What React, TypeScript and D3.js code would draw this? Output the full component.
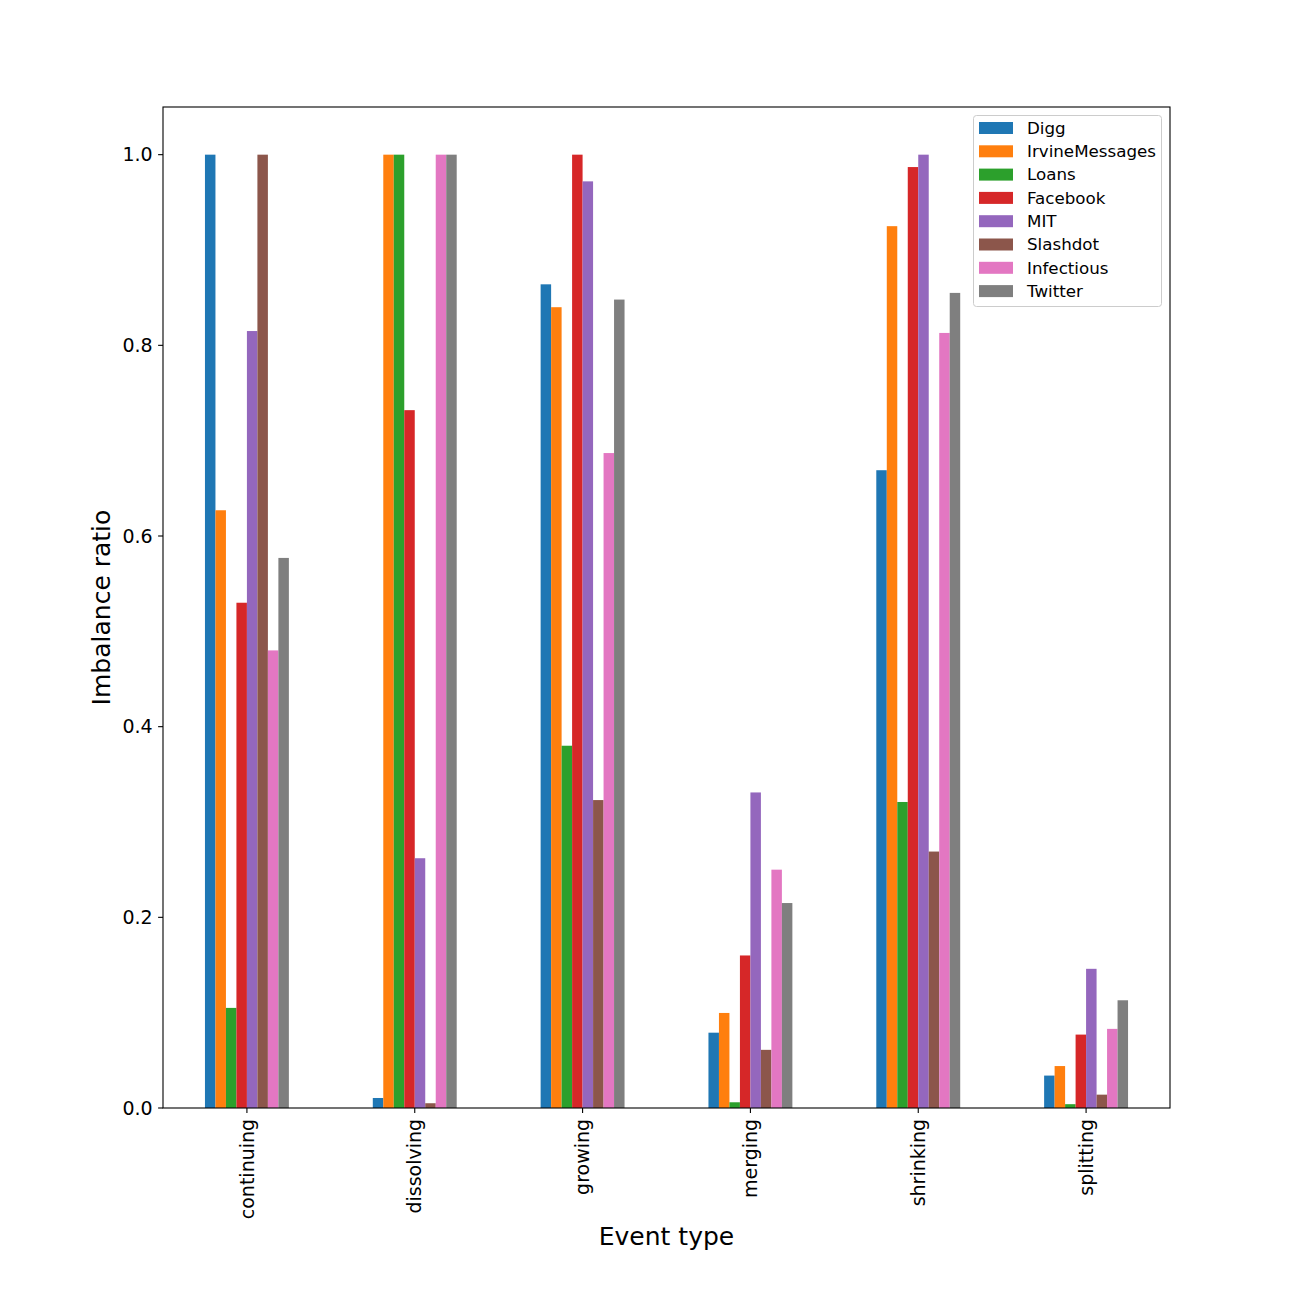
import * as d3 from 'd3';

const categories = ['continuing', 'dissolving', 'growing', 'merging', 'shrinking', 'splitting'];
const seriesNames = ['Digg', 'IrvineMessages', 'Loans', 'Facebook', 'MIT', 'Slashdot', 'Infectious', 'Twitter'];
const seriesColors = ['#1f77b4', '#ff7f0e', '#2ca02c', '#d62728', '#9467bd', '#8c564b', '#e377c2', '#7f7f7f'];

// one array per dataset, values follow the categories order
const digg = [1.0, 0.0105, 0.864, 0.079, 0.669, 0.034];
const irvineMessages = [0.627, 1.0, 0.84, 0.0997, 0.925, 0.044];
const loans = [0.105, 1.0, 0.38, 0.006, 0.321, 0.004];
const facebook = [0.53, 0.732, 1.0, 0.16, 0.987, 0.077];
const mit = [0.815, 0.262, 0.972, 0.331, 1.0, 0.146];
const slashdot = [1.0, 0.005, 0.323, 0.061, 0.269, 0.014];
const infectious = [0.48, 1.0, 0.687, 0.25, 0.813, 0.083];
const twitter = [0.577, 1.0, 0.848, 0.215, 0.855, 0.113];

const yTicks = [0.0, 0.2, 0.4, 0.6, 0.8, 1.0];

const seriesValues = [digg, irvineMessages, loans, facebook, mit, slashdot, infectious, twitter];

const W = 1300;
const H = 1300;
const left = 163;
const right = 1170;
const top = 107;
const bottom = 1108;
const font = 'DejaVu Sans, sans-serif';
const tickFont = 19;

const App = () => {
  const x = d3.scaleBand<string>().domain(categories).range([left, right]).padding(0);
  const bw = x.bandwidth();
  const xs = d3.scaleBand<string>().domain(seriesNames).range([bw * 0.25, bw * 0.75]).padding(0);
  const y = d3.scaleLinear().domain([0, 1.05]).range([bottom, top]);
  const tickLen = 4.9;

  return (
    <div style={{ position: 'absolute', left: 0, top: 0 }}>
      <svg width={W} height={H} style={{ display: 'block', background: '#fff' }}>
        {seriesNames.map((name, si) => (
          <g key={name} fill={seriesColors[si]}>
            {categories.map((c, ci) => {
              const v = seriesValues[si][ci];
              return (
                <rect
                  key={c}
                  x={(x(c) as number) + (xs(name) as number)}
                  y={y(v)}
                  width={xs.bandwidth()}
                  height={y(0) - y(v)}
                />
              );
            })}
          </g>
        ))}

        {/* frame */}
        <rect x={left} y={top} width={right - left} height={bottom - top} fill="none" stroke="#000" strokeWidth={1.1} />

        {/* y axis */}
        {yTicks.map((t) => (
          <g key={t} transform={`translate(0,${y(t)})`}>
            <line x1={left - tickLen} x2={left} stroke="#000" strokeWidth={1.1} />
            <text x={left - tickLen - 5.5} dy="0.35em" textAnchor="end" fontFamily={font} fontSize={tickFont}>
              {t.toFixed(1)}
            </text>
          </g>
        ))}

        {/* x axis */}
        {categories.map((c) => {
          const cx = (x(c) as number) + bw / 2;
          return (
            <g key={c} transform={`translate(${cx},${bottom})`}>
              <line y1={0} y2={tickLen} stroke="#000" strokeWidth={1.1} />
              <text
                transform={`translate(0,${tickLen + 6}) rotate(-90)`}
                dy="0.35em"
                textAnchor="end"
                fontFamily={font}
                fontSize={tickFont}
              >
                {c}
              </text>
            </g>
          );
        })}

        <text x={(left + right) / 2} y={1245} textAnchor="middle" fontFamily={font} fontSize={25}>
          Event type
        </text>
        <text
          transform={`translate(110,${(top + bottom) / 2}) rotate(-90)`}
          textAnchor="middle"
          fontFamily={font}
          fontSize={25}
        >
          Imbalance ratio
        </text>

        {/* legend */}
        <rect x={973.5} y={115.5} width={188} height={191} rx={3} fill="#fff" fillOpacity={0.8} stroke="#ccc" strokeWidth={1} />
        {seriesNames.map((name, i) => {
          const ly = 128 + i * 23.3;
          return (
            <g key={name}>
              <rect x={979} y={ly - 6} width={34} height={12} fill={seriesColors[i]} />
              <text x={1027} y={ly} dy="0.35em" fontFamily={font} fontSize={16.7}>
                {name}
              </text>
            </g>
          );
        })}
      </svg>
    </div>
  );
};

export default App;
